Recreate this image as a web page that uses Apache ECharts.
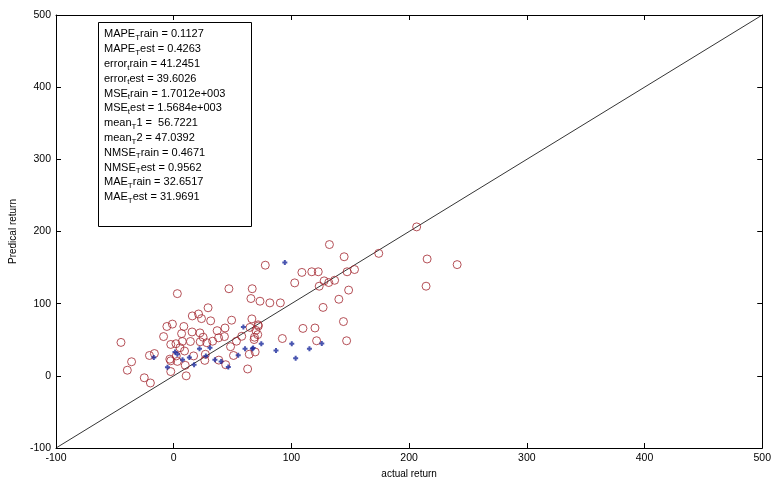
<!DOCTYPE html>
<html><head><meta charset="utf-8">
<script src="https://cdn.jsdelivr.net/npm/echarts@6/dist/echarts.min.js"></script>
<style>html,body{margin:0;padding:0;background:#fff}#c{width:774px;height:484px}</style>
</head><body><div id="c"></div>
<script>
// Train (red circles): [actual, predicted]
const trainPoints = [
 [206.4,206.4],[132.3,181.9],[144.8,165.0],[174.2,169.7],[215.3,161.9],[240.8,154.1],[214.4,124.2],
 [77.8,153.3],[108.9,143.3],[117.3,144.2],[122.8,144.2],[102.8,128.8],[147.3,144.2],[153.6,147.3],
 [127.8,131.6],[131.7,129.3],[136.7,132.4],[123.6,124.2],[148.6,118.8],[66.7,120.7],[65.6,107.1],
 [73.3,103.4],[81.7,101.1],[90.6,101.1],[140.3,106.1],[126.9,94.8],[144.2,75.2],[109.8,65.7],
 [120.0,66.3],[92.3,51.7],[121.4,48.6],[146.9,48.6],[66.4,78.9],[71.7,70.7],[69.8,63.0],[71.4,57.1],
 [68.3,50.3],[69.2,33.1],[62.8,9.5],[3.1,113.9],[46.9,120.7],[-44.8,46.3],[-35.8,19.5],[-39.4,7.8],
 [-25.0,-2.7],[-19.8,-9.9],[-20.6,28.2],[-16.4,30.9],[29.2,94.3],[15.8,83.0],[21.1,85.7],[23.6,79.3],
 [31.4,76.2],[-5.8,68.4],[-1.1,71.7],[8.6,68.4],[-8.6,54.4],[6.7,58.5],[15.6,60.8],[22.3,59.5],
 [36.9,62.6],[43.6,66.3],[49.2,77.1],[64.8,67.1],[38.1,52.7],[43.1,54.4],[33.1,48.0],[25.0,53.5],
 [22.5,47.2],[14.2,47.6],[7.3,47.6],[1.9,44.5],[-2.5,43.5],[5.3,39.0],[28.1,45.9],[48.3,40.4],
 [53.3,48.0],[57.8,54.8],[9.2,34.4],[2.2,27.6],[-3.3,23.1],[16.9,27.6],[26.9,29.9],[50.8,28.2],
 [38.3,21.8],[44.2,15.4],[-2.5,20.8],[3.1,20.0],[9.8,14.6],[26.4,21.4],[-2.5,5.9],[10.6,0.0],
 [71.9,69.0],[68.6,53.5],[64.2,29.9]
];
// Test (blue markers): [actual, predicted]
const testPoints = [
 [94.4,156.9],[125.8,44.9],[100.3,44.5],[115.3,37.7],[86.9,35.0],[103.6,24.5],[74.4,44.5],[67.5,38.5],
 [-16.9,25.4],[1.1,33.1],[3.1,29.9],[-5.3,11.8],[7.5,22.2],[13.3,25.4],[17.3,15.4],[21.9,37.7],
 [30.8,39.0],[27.3,27.6],[35.0,22.2],[40.3,20.0],[46.4,12.2],[54.8,28.6],[59.2,67.6],[60.6,37.7],[66.9,37.7]
];
const diagonal = [[-100,-100],[500,500]];
const axisMin = -100, axisMax = 500, axisStep = 100;
const xTitle = 'actual return';
const yTitle = 'Predical return';
// Statistics box lines: [name, subscript, rest, value]
const statLines = [
 ['MAPE','T','rain','0.1127'],
 ['MAPE','T','est','0.4263'],
 ['error','t','rain','41.2451'],
 ['error','t','est','39.6026'],
 ['MSE','t','rain','1.7012e+003'],
 ['MSE','t','est','1.5684e+003'],
 ['mean','T','1',' 56.7221'],
 ['mean','T','2','47.0392'],
 ['NMSE','T','rain','0.4671'],
 ['NMSE','T','est','0.9562'],
 ['MAE','T','rain','32.6517'],
 ['MAE','T','est','31.9691']
];

const FONT = 'Liberation Sans';
const chart = echarts.init(document.getElementById('c'), null, {renderer:'canvas'});
const statText = statLines.map(l => l[0] + '{s|' + l[1] + '}' + l[2] + ' = ' + l[3]).join('\n');

const baseX = {type:'value', min:axisMin, max:axisMax, interval:axisStep,
  axisLine:{show:true,onZero:false,lineStyle:{color:'#000',width:1}},
  axisTick:{show:true,inside:true,length:5,lineStyle:{color:'#000'}},
  splitLine:{show:false}};
chart.setOption({
  animation:false,
  backgroundColor:'#fff',
  grid:{left:53,right:2,top:15,bottom:28,containLabel:false},
  xAxis:[
    Object.assign({}, baseX, {position:'bottom', name:xTitle, nameLocation:'middle', nameGap:21,
      nameTextStyle:{fontFamily:FONT,fontSize:10,color:'#000'},
      axisLabel:{fontFamily:FONT,fontSize:10.5,color:'#000',margin:5}}),
    Object.assign({}, baseX, {position:'top', axisLabel:{show:false}})
  ],
  yAxis:[
    Object.assign({}, baseX, {position:'left', name:yTitle, nameLocation:'middle', nameGap:38,
      nameTextStyle:{fontFamily:FONT,fontSize:10,color:'#000'},
      axisLabel:{fontFamily:FONT,fontSize:10.5,color:'#000',margin:5}}),
    Object.assign({}, baseX, {position:'right', axisLabel:{show:false}})
  ],
  series:[
    {type:'line', data:diagonal, symbol:'none', lineStyle:{color:'#000',width:0.8}, z:1},
    {type:'scatter', data:trainPoints, symbol:'circle', symbolSize:8,
      itemStyle:{color:'rgba(0,0,0,0)', borderColor:'#a2262e', borderWidth:1}, z:2},
    {type:'scatter', data:testPoints,
      symbol:'path://M3,0L7,0L7,3L10,3L10,7L7,7L7,10L3,10L3,7L0,7L0,3L3,3Z', symbolSize:5,
      itemStyle:{color:'#1c2a9c'}, z:3}
  ],
  graphic:[
    {type:'rect', left:98, top:22, shape:{width:153, height:204},
      style:{fill:'#fff', stroke:'#000', lineWidth:1}, z:10},
    {type:'text', left:104, top:27, z:11,
      style:{text:statText, fontFamily:FONT, fontSize:11, fill:'#000', lineHeight:14.8,
        rich:{s:{fontSize:8, verticalAlign:'bottom', padding:[6,0,0,0], fontFamily:FONT, fill:'#000', lineHeight:14.8}}}}
  ]
});
</script></body></html>
